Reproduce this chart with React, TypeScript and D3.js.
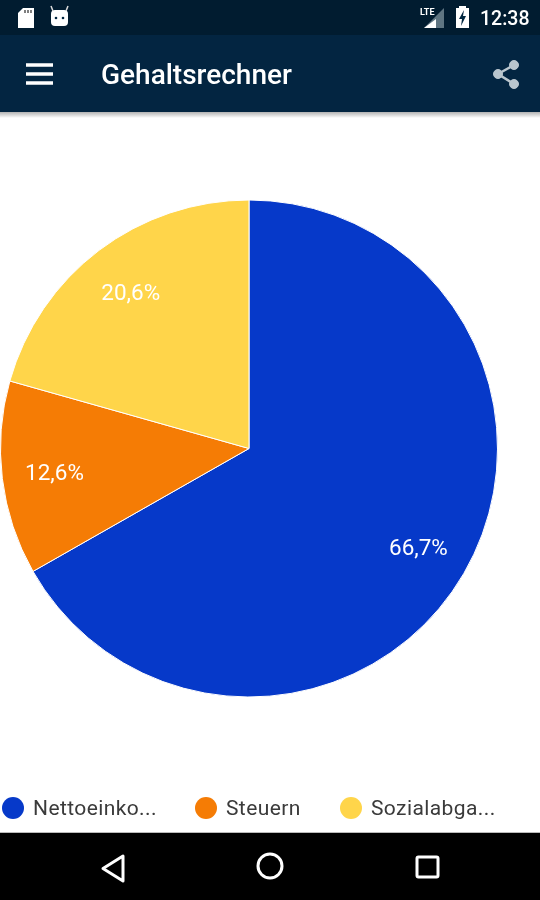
import React from 'react';
import * as d3 from 'd3';

// Chart values
const categories = ['Nettoeinkommen', 'Steuern', 'Sozialabgaben'];
const shortLabels = ['Nettoeinko...', 'Steuern', 'Sozialabga...'];
const values = [66.7, 12.6, 20.6];
const valueLabels = ['66,7%', '12,6%', '20,6%'];
const colors = ['#0639c9', '#f57c05', '#ffd54a'];

const WIDTH = 540;
const HEIGHT = 900;
const FONT = 'Roboto, "Noto Sans", sans-serif';

const cx = 249;
const cy = 448.5;
const radius = 248.5;
const labelRadius = 196;
const legendX = [13, 206, 351];
const legendY = 808;

const App = () => {
  const pie = d3.pie<number>().sort(null).value(d => d);
  const arcs = pie(values);
  const arc = d3.arc<d3.PieArcDatum<number>>().innerRadius(0).outerRadius(radius);
  const labelArc = d3.arc<d3.PieArcDatum<number>>().innerRadius(labelRadius).outerRadius(labelRadius);

  return (
    <svg
      width={WIDTH}
      height={HEIGHT}
      viewBox={`0 0 ${WIDTH} ${HEIGHT}`}
      style={{ position: 'fixed', top: 0, left: 0, background: '#fff' }}
    >
      <defs>
        <filter id="soft" x="-5%" y="-5%" width="110%" height="110%">
          <feGaussianBlur stdDeviation="0.45" />
        </filter>
        <linearGradient id="shadow" x1="0" y1="0" x2="0" y2="1">
          <stop offset="0" stopColor="#000" stopOpacity="0.3" />
          <stop offset="1" stopColor="#000" stopOpacity="0" />
        </linearGradient>
      </defs>

      {/* app bars */}
      <rect x={0} y={0} width={WIDTH} height={35} fill="#011c30" />
      <rect x={0} y={35} width={WIDTH} height={77} fill="#032541" />
      <rect x={0} y={112} width={WIDTH} height={6} fill="url(#shadow)" />

      <g filter="url(#soft)">
        {/* status bar icons */}
        <path d="M23 8H34V28H18V13Z" fill="#fff" />
        <path d="M25 10v3M28 10v3M31 10v3" stroke="#555" strokeWidth={1.5} />
        <rect x={51} y={10} width={17} height={16} rx={4} fill="#fff" />
        <path d="M53 11L51 6M66 11L68 6" stroke="#ddd" strokeWidth={1.5} />
        <circle cx={56} cy={18} r={1.3} fill="#032541" />
        <circle cx={63} cy={18} r={1.3} fill="#032541" />
        <path d="M444 8V28H424Z" fill="#5f7482" />
        <path d="M436 19V28H424Z" fill="#fff" />
        <text x={420} y={15} fontFamily={FONT} fontSize={9} fontWeight={700} fill="#fff">LTE</text>
        <path d="M459 8V6H466V8H469V28H456V8Z" fill="#fff" />
        <path d="M464 10L459 19H462L461 26L466 16H463Z" fill="#032541" />
        <text x={480} y={25} fontFamily={FONT} fontSize={19.5} fontWeight={500} fill="#fff">12:38</text>

        {/* toolbar */}
        <path d="M26 65H53M26 74H53M26 83H53" stroke="#fff" strokeWidth={3.5} />
        <text x={101} y={84} fontFamily={FONT} fontSize={28} fontWeight={500} fill="#fff">Gehaltsrechner</text>
        <g fill="#b9c5cd" stroke="#b9c5cd">
          <path d="M514 65L498 74L514 84" fill="none" strokeWidth={2.5} />
          <circle cx={514} cy={65} r={4.5} />
          <circle cx={498} cy={74} r={4.5} />
          <circle cx={514} cy={84} r={4.5} />
        </g>
      </g>

      {/* pie */}
      <g transform={`translate(${cx},${cy})`}>
        {arcs.map((d, i) => (
          <path key={categories[i]} d={arc(d) ?? ''} fill={colors[i]} stroke="#fff" strokeWidth={1} strokeLinejoin="round" />
        ))}
        {arcs.map((d, i) => {
          const [x, y] = labelArc.centroid(d);
          return (
            <text
              key={categories[i]}
              x={x}
              y={y}
              dy="0.36em"
              textAnchor="middle"
              fontFamily={FONT}
              fontSize={22.5}
              fill="#fff"
              filter="url(#soft)"
            >
              {valueLabels[i]}
            </text>
          );
        })}
      </g>

      {/* legend */}
      <g>
        {categories.map((c, i) => (
          <g key={c} transform={`translate(${legendX[i]},${legendY})`}>
            <circle r={11} fill={colors[i]} />
            <text x={20} y={7} fontFamily={FONT} fontSize={21} letterSpacing={0.4} fill="#3a3a3a" filter="url(#soft)">
              {shortLabels[i]}
            </text>
          </g>
        ))}
      </g>

      {/* navigation bar */}
      <rect x={0} y={832} width={WIDTH} height={1} fill="#bbb" />
      <rect x={0} y={833} width={WIDTH} height={67} fill="#000" />
      <g fill="none" stroke="#fff" strokeWidth={3} strokeLinejoin="round" filter="url(#soft)">
        <path d="M123 856V881L103 868.5Z" />
        <circle cx={270} cy={866} r={12} />
        <rect x={417} y={857} width={21} height={20} rx={1.5} />
      </g>
    </svg>
  );
};

export default App;
